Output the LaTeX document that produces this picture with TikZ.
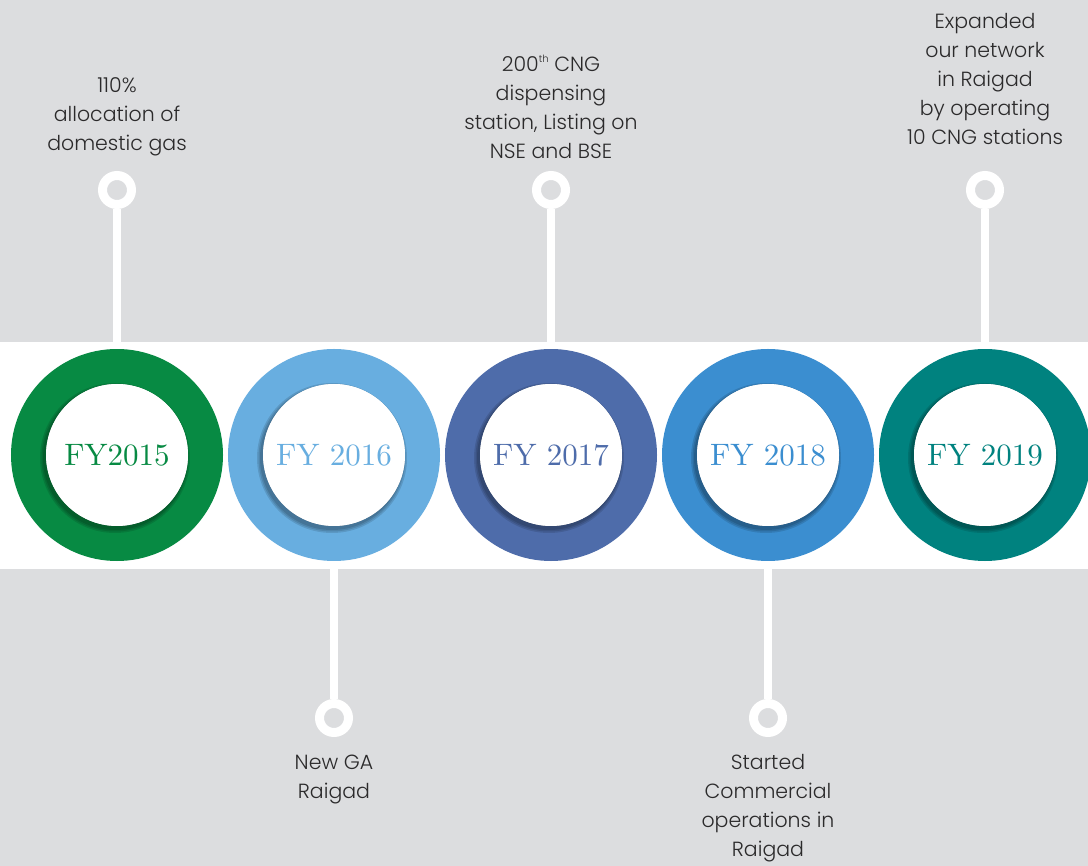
\documentclass[tikz,border=0pt]{standalone}
\usepackage{fontspec}
\newfontfamily\notefont{Poppins Light}
\newfontfamily\yearfont{lmroman10-regular}[Extension=.otf]
\usetikzlibrary{positioning}
\definecolor{bggray}{HTML}{DCDDDF}
\definecolor{notegray}{HTML}{2B2A2B}
\definecolor{fyA}{HTML}{078A43}
\definecolor{fyB}{HTML}{68AEE0}
\definecolor{fyC}{HTML}{4E6CAA}
\definecolor{fyD}{HTML}{3B8ED0}
\definecolor{fyE}{HTML}{00827F}
\tikzset{
  yearring/.style={circle, draw=#1, line width=35pt, minimum size=177pt, inner sep=0pt},
  yeardisc/.style={circle, fill=white, minimum size=142pt, inner sep=0pt, text=#1, font=\yearfont\fontsize{31}{38}\selectfont},
  inshadow/.style={fill=black, opacity=0.12},
  dot/.style={circle, draw=white, line width=9pt, minimum size=29pt, inner sep=0pt},
  stem/.style={draw=white, line width=7.5pt},
  note/.style={align=center, inner sep=0pt, text=notegray, font=\notefont\fontsize{20.5}{29}\selectfont}
}
\begin{document}
\begin{tikzpicture}[x=1pt,y=-1pt]
\useasboundingbox (0,0) rectangle (1088,866);
% background bands
\fill[bggray] (0,0) rectangle (1088,866);
\fill[white] (0,342) rectangle (1088,569);
% year rings
\node[yearring=fyA] (y15) at (117,455) {};
\node[yearring=fyB] (y16) at (334,455) {};
\node[yearring=fyC] (y17) at (551,455) {};
\node[yearring=fyD] (y18) at (768,455) {};
\node[yearring=fyE] (y19) at (985,455) {};
\foreach \c in {y15,y16,y17,y18,y19}
  \foreach \r in {72,73.5,75} \fill[inshadow] ([shift={(-2,3)}]\c.center) circle (\r);
\node[yeardisc=fyA] (f15) at (y15) {FY2015};
\node[yeardisc=fyB] (f16) at (y16) {FY 2016};
\node[yeardisc=fyC] (f17) at (y17) {FY 2017};
\node[yeardisc=fyD] (f18) at (y18) {FY 2018};
\node[yeardisc=fyE] (f19) at (y19) {FY 2019};
% milestone dots
\node[dot] (d15) at (117,190) {};
\node[dot] (d16) at (334,718) {};
\node[dot] (d17) at (551,190) {};
\node[dot] (d18) at (768,718) {};
\node[dot] (d19) at (985,190) {};
\draw[stem] (d15) -- (y15);
\draw[stem] (d16) -- (y16);
\draw[stem] (d17) -- (y17);
\draw[stem] (d18) -- (y18);
\draw[stem] (d19) -- (y19);
% milestone texts
\node[note, above=15pt of d15] (t15) {110\%\\allocation of\\domestic gas};
\node[note, below=17.5pt of d16] (t16) {New GA\\Raigad};
\node[note, above=12pt of d17] (t17) {200\raisebox{0.8ex}{\fontsize{10}{10}\selectfont th} CNG\\dispensing\\station, Listing on\\NSE and BSE};
\node[note, below=17pt of d18] (t18) {Started\\Commercial\\operations in\\Raigad};
\node[note, above=26pt of d19] (t19) {Expanded\\our network\\in Raigad\\by operating\\10 CNG stations};
\end{tikzpicture}
\end{document}
